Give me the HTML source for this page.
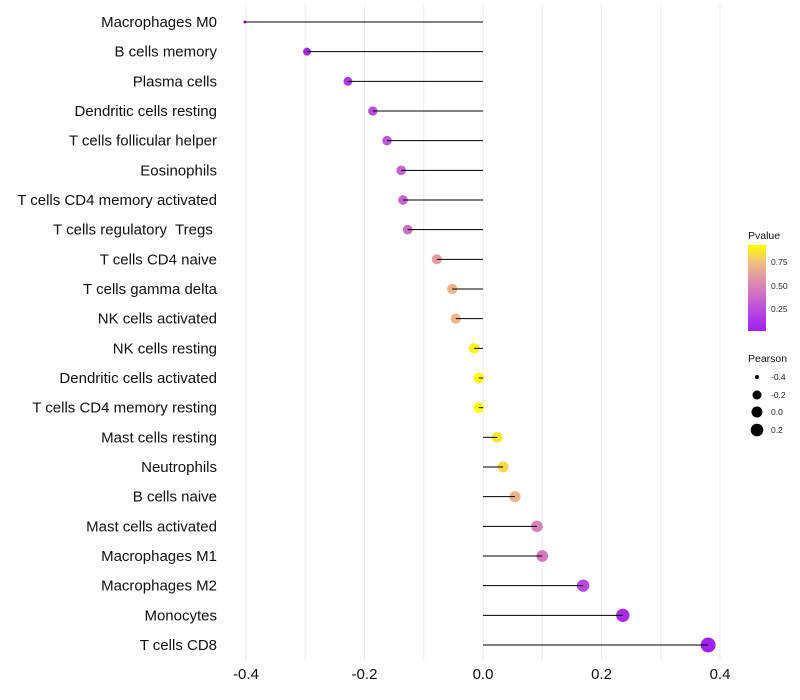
<!DOCTYPE html>
<html><head><meta charset="utf-8">
<style>
html,body{margin:0;padding:0;background:#fff;}
svg{display:block;font-family:"Liberation Sans",Arial,sans-serif;}
text{white-space:pre;}
</style></head>
<body>
<svg id="chart" width="800" height="700">
<defs>
<linearGradient id="pg" x1="0" y1="1" x2="0" y2="0">
<stop offset="0" stop-color="#a020f0"/>
<stop offset="0.3" stop-color="#c056d8"/>
<stop offset="0.55" stop-color="#dc88b0"/>
<stop offset="0.8" stop-color="#f0c080"/>
<stop offset="1" stop-color="#ffff00"/>
</linearGradient>
</defs>
<g id="grid"></g>
<g id="marks"></g>
<g id="ylab"></g>
<g id="xlab"></g>
<g font-size="10">
<text x="748" y="239" font-size="10.5" fill="#111">Pvalue</text>
<rect x="748" y="245" width="18" height="86" fill="url(#pg)"/>
<text x="771" y="265" font-size="8.5" fill="#222">0.75</text>
<text x="771" y="289" font-size="8.5" fill="#222">0.50</text>
<text x="771" y="312" font-size="8.5" fill="#222">0.25</text>
</g>
<g>
<text x="748" y="362" font-size="10.5" fill="#111">Pearson</text>
<circle cx="757" cy="377" r="2" fill="#000"/><text x="771" y="380" font-size="8.5" fill="#222">-0.4</text>
<circle cx="757" cy="395" r="4.5" fill="#000"/><text x="771" y="398" font-size="8.5" fill="#222">-0.2</text>
<circle cx="757" cy="412" r="5.5" fill="#000"/><text x="771" y="415" font-size="8.5" fill="#222">0.0</text>
<circle cx="757" cy="430" r="6.3" fill="#000"/><text x="771" y="433" font-size="8.5" fill="#222">0.2</text>
</g>
</svg>
<script>
const categories=["Macrophages M0","B cells memory","Plasma cells","Dendritic cells resting","T cells follicular helper","Eosinophils","T cells CD4 memory activated","T cells regulatory  Tregs ","T cells CD4 naive","T cells gamma delta","NK cells activated","NK cells resting","Dendritic cells activated","T cells CD4 memory resting","Mast cells resting","Neutrophils","B cells naive","Mast cells activated","Macrophages M1","Macrophages M2","Monocytes","T cells CD8"];
const pearson=[-0.402,-0.297,-0.228,-0.186,-0.162,-0.138,-0.135,-0.127,-0.078,-0.052,-0.046,-0.015,-0.007,-0.007,0.024,0.034,0.054,0.091,0.100,0.169,0.236,0.380];
const pvalue=[0.02,0.06,0.15,0.25,0.30,0.35,0.36,0.40,0.60,0.70,0.72,0.90,0.93,0.93,0.86,0.82,0.70,0.50,0.45,0.22,0.08,0.03];
const xTicks=[-0.4,-0.2,0.0,0.2,0.4];
const NS="http://www.w3.org/2000/svg";
const x=v=>483+v*592.5;
const y=i=>22+i*29.667;
const sv=[-0.41,-0.3,-0.2,0,0.17,0.24,0.4];
const sr=[1.3,4,4.6,5.3,6.2,6.7,7.6];
function rad(v){for(let k=1;k<sv.length;k++){if(v<=sv[k]){const f=(v-sv[k-1])/(sv[k]-sv[k-1]);return sr[k-1]+(sr[k]-sr[k-1])*Math.max(0,f);}}return sr[sr.length-1];}
const cols=[[0,[160,32,240]],[0.3,[192,86,216]],[0.55,[220,136,176]],[0.8,[240,192,128]],[1,[255,255,0]]];
function col(p){let t=(p-0.02)/0.91;t=Math.max(0,Math.min(1,t));
for(let k=1;k<cols.length;k++){if(t<=cols[k][0]){const a=cols[k-1],b=cols[k];const f=(t-a[0])/(b[0]-a[0]);
return "rgb("+a[1].map((c,j)=>Math.round(c+(b[1][j]-c)*f)).join(",")+")";}}return "rgb(255,255,0)";}
function mk(tag,attrs,parent){const e=document.createElementNS(NS,tag);for(const k in attrs)e.setAttribute(k,attrs[k]);parent.appendChild(e);return e;}
const grid=document.getElementById('grid'),marks=document.getElementById('marks'),yl=document.getElementById('ylab'),xl=document.getElementById('xlab');
for(let v=-4;v<=4;v++){const g=mk('line',{x1:x(v/10),x2:x(v/10),y1:5,y2:660,stroke:'#ebebeb','stroke-width':1},grid);

}
categories.forEach((c,i)=>{
const cy=y(i);
const p=mk('circle',{cx:x(pearson[i]),cy:cy,r:rad(pearson[i]),fill:col(pvalue[i])},marks);


const l=mk('line',{x1:x(0),x2:x(pearson[i]),y1:cy,y2:cy,stroke:'#000','stroke-width':1},marks);


const t=mk('text',{x:217,y:cy+5,'text-anchor':'end','font-size':15,fill:'#111'},yl);
t.textContent=c;


});
xTicks.forEach(v=>{const t=mk('text',{x:x(v),y:679,'text-anchor':'middle','font-size':15,fill:'#111'},xl);
t.textContent=v.toFixed(1);

});
</script>
</body></html>
